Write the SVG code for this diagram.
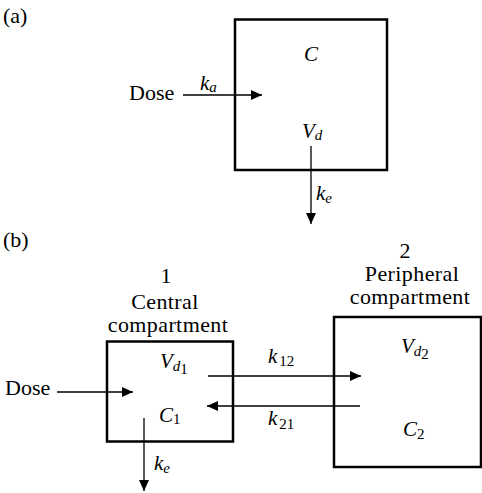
<svg xmlns="http://www.w3.org/2000/svg" width="482" height="493" viewBox="0 0 482 493" font-family="'Liberation Serif', 'Times New Roman', serif">
<defs>
<marker id="ah" markerUnits="userSpaceOnUse" markerWidth="12" markerHeight="10" refX="11" refY="5" orient="auto">
<path d="M0,0 L11,5 L0,10 Z" fill="#000"/>
</marker>
<style>
text{font-family:'Liberation Serif','Times New Roman',serif;fill:#000}
.t{font-size:22px}
.w{letter-spacing:0.4px}
.v{font-size:21px;font-style:italic}
.s{font-size:15px}
.si{font-size:15px;font-style:italic}
.box{fill:none;stroke:#000;stroke-width:2.5}
.c{stroke:#000;stroke-width:1.3;fill:none;marker-end:url(#ah)}
</style>
</defs>
<rect width="482" height="493" fill="#fff"/>
<text class="t" x="3" y="23">(a)</text>
<text class="t" x="3" y="247">(b)</text>
<g id="boxA">
<rect class="box" x="235" y="19.5" width="152" height="150.5"/>
<text class="v" x="304" y="61">C</text>
<text x="302" y="138"><tspan class="v">V</tspan><tspan class="si" dy="2">d</tspan></text>
</g>
<g id="doseA"><text class="t" x="129" y="100">Dose</text></g>
<g id="box1">
<text class="t" x="166" y="283" text-anchor="middle">1</text>
<text class="t w" x="165" y="309" text-anchor="middle">Central</text>
<text class="t w" x="168" y="332" text-anchor="middle">compartment</text>
<rect class="box" x="107" y="341.5" width="126" height="100"/>
<text x="160" y="368"><tspan class="v">V</tspan><tspan class="si" dy="3">d</tspan><tspan class="s" dy="3">1</tspan></text>
<text x="159" y="422"><tspan class="v">C</tspan><tspan class="s" dy="2">1</tspan></text>
</g>
<g id="box2">
<text class="t" x="405" y="258" text-anchor="middle">2</text>
<text class="t w" x="412" y="281" text-anchor="middle">Peripheral</text>
<text class="t w" x="410" y="304" text-anchor="middle">compartment</text>
<rect class="box" x="334" y="317" width="147" height="150"/>
<text x="401" y="353"><tspan class="v">V</tspan><tspan class="si" dy="3">d</tspan><tspan class="s" dy="3">2</tspan></text>
<text x="403" y="436"><tspan class="v">C</tspan><tspan class="s" dy="3">2</tspan></text>
</g>
<g id="doseB"><text class="t" x="5" y="395">Dose</text></g>
<g id="connectors">
<line class="c" x1="183" y1="95" x2="262" y2="95"/>
<text x="200" y="90"><tspan class="v">k</tspan><tspan class="si" dy="2">a</tspan></text>
<line class="c" x1="311" y1="146" x2="311" y2="224"/>
<text x="316" y="200"><tspan class="v">k</tspan><tspan class="si" dy="3">e</tspan></text>
<line class="c" x1="57" y1="392" x2="133" y2="392"/>
<line class="c" x1="208" y1="376" x2="361" y2="376"/>
<text x="268" y="363"><tspan class="v">k</tspan><tspan class="s" dx="2" dy="3">12</tspan></text>
<line class="c" x1="360" y1="406" x2="207" y2="406"/>
<text x="268" y="425"><tspan class="v">k</tspan><tspan class="s" dx="2" dy="4">21</tspan></text>
<line class="c" x1="144" y1="418" x2="144" y2="491"/>
<text x="154" y="470"><tspan class="v">k</tspan><tspan class="si" dy="3">e</tspan></text>
</g>
</svg>
